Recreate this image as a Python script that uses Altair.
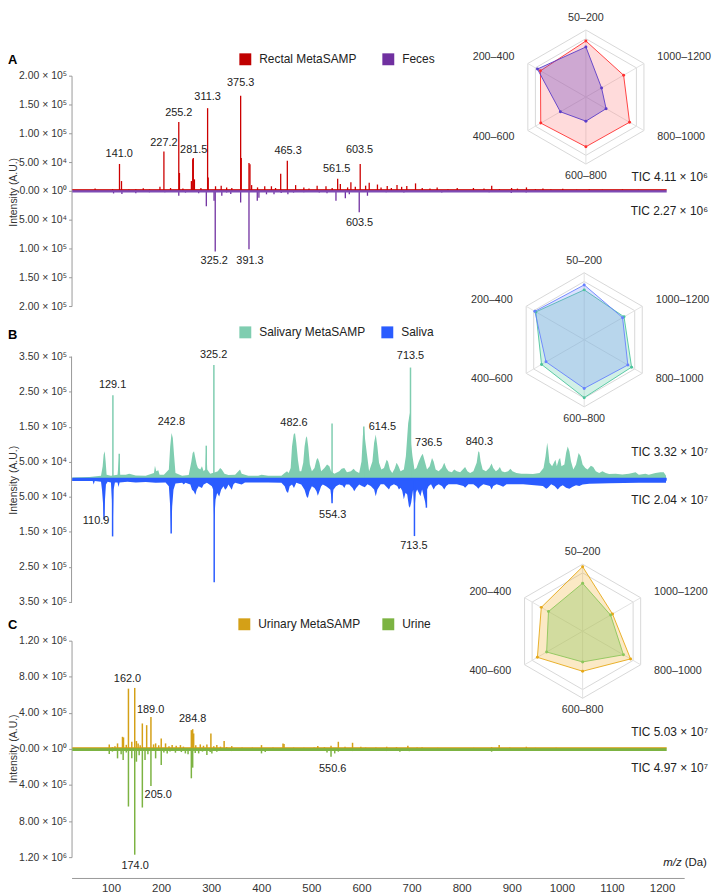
import math
import altair as alt
import pandas as pd

FONT = "Liberation Sans"

# ---------------------------------------------------------------- data
# Panel A  (m/z, intensity)
A_rectal = [(94.4, 4000), (128.3, 3000), (141.8, 46700), (145.7, 17000), (160, 2500), (173.5, 3000),
            (188, 4500), (200, 2500), (220.4, 7000), (228.1, 68400), (241, 5000), (257, 119600),
            (258.3, 31000), (265, 4000), (281.5, 17000), (284.1, 55000), (285.2, 57000), (287.4, 20000),
            (300, 5000), (313.0, 143600), (314.2, 23000), (328.4, 8000), (339.4, 9000), (350, 6000),
            (360, 5000), (377.2, 165300), (378.4, 57000), (393.4, 48400), (395.3, 46000), (398.5, 10000),
            (410, 6000), (424, 8000), (437, 8000), (445, 5000), (455, 29600), (467.9, 52400), (484, 10000),
            (500, 6000), (510, 4000), (525.8, 9000), (543, 8000), (555, 5000), (565.7, 21000), (570.9, 12000),
            (585, 6000), (591.4, 15000), (600, 7000), (609.5, 46700), (620, 9000), (627, 14000), (643, 11000),
            (650, 6000), (662, 8500), (670, 5000), (681, 10000), (690, 7000), (700, 8500), (717, 13000),
            (730, 5000), (745, 4000), (759, 6000), (780, 3000), (798, 5000), (829.5, 5000), (850, 4000),
            (865, 9000), (880, 3000), (903.6, 5000), (915, 4000), (932.5, 6000), (950, 3000), (964.5, 4000),
            (980, 2500), (1003, 3500), (1030, 2000), (1054.5, 3000), (1080, 2000), (1119, 2500), (1150, 2000),
            (1180, 1500)]
A_feces = [(130.3, 4500), (146.5, 5500), (160, 2000), (173.5, 4000), (200, 2500), (230, 2500), (257, 8500),
           (270, 3000), (295.6, 4000), (310.5, 26800), (325.5, 17000), (327.8, 105400), (340.6, 8500),
           (350, 3000), (358, 5500), (377.2, 20000), (393.4, 101400), (409.5, 17000), (412.7, 12000),
           (427.4, 6000), (442, 6000), (456, 3500), (469, 6000), (480, 3000), (500, 2500), (530, 3000),
           (545, 4000), (562.4, 17000), (580.6, 13000), (588.3, 6000), (607.6, 37000), (623.6, 8500),
           (660, 2500), (694.4, 3000), (720, 2000), (768, 3000), (860, 2500), (903, 3500), (932, 3000),
           (960, 2000), (1000, 1500)]
A_labels = [("141.0", 141.3, 63800), ("227.2", 228.1, 82600), ("255.2", 257.0, 135000),
            ("281.5", 286.0, 71300), ("311.3", 313.0, 162400), ("375.3", 377.2, 188000),
            ("465.3", 469.3, 69600), ("561.5", 563.8, 37100), ("603.5", 608.2, 71300),
            ("325.2", 325.9, -122600), ("391.3", 395.4, -122600), ("603.5", 608.2, -55900)]
A_names = ["Rectal MetaSAMP", "Feces"]
A_tic = ["TIC 4.11 × 10⁶", "TIC 2.27 × 10⁶"]

# Panel B
B_salivary_env = [(50, 5000), (83.4, 6700), (105.9, 10500), (109.1, 37000), (111.0, 70000), (113.0, 80000),
    (114.9, 51000), (116.8, 13000), (125.2, 10500), (138.0, 13000), (141.3, 70000), (143.2, 13000),
    (154.1, 13000), (160.6, 16000), (173.4, 11000), (192.7, 10500), (208.8, 18000), (210.7, 39000),
    (213.3, 23000), (217.2, 26000), (219.7, 13000), (228.1, 13000), (237.7, 28000), (240.3, 94000),
    (242.9, 132000), (245.4, 118000), (248.0, 66000), (250.6, 18000), (263.5, 10500), (276.3, 12000),
    (281.5, 51000), (284.0, 75000), (286.6, 80000), (289.2, 61000), (291.8, 42000), (294.3, 32000),
    (298.8, 28000), (302.0, 37000), (305.3, 23000), (308.5, 28000), (310.4, 96000), (312.3, 28000),
    (318.1, 16000), (322.6, 18000), (327.8, 20000), (332.9, 23000), (337.4, 32000), (340.6, 28000),
    (345.8, 16000), (353.5, 12000), (366.4, 13000), (376.0, 28000), (379.2, 16000), (392.1, 10500),
    (411.4, 10500), (417.8, 13000), (430.7, 10500), (456.4, 10500), (462.8, 18000), (467.3, 23000),
    (470.5, 18000), (474.4, 32000), (477.0, 94000), (480.2, 128000), (482.8, 132000), (485.3, 104000),
    (488.5, 56000), (491.8, 23000), (495.0, 23000), (498.8, 47000), (501.4, 94000), (504.0, 118000),
    (505.9, 123000), (508.5, 94000), (511.7, 42000), (515.6, 23000), (520.7, 32000), (524.6, 56000),
    (527.1, 61000), (530.3, 47000), (533.6, 23000), (540.0, 32000), (545.1, 42000), (549.6, 37000),
    (552.9, 23000), (559.3, 16000), (568.9, 23000), (573.4, 30000), (578.6, 32000), (583.7, 20000),
    (591.4, 23000), (596.6, 30000), (601.1, 23000), (607.5, 18000), (612.0, 51000), (614.6, 123000),
    (616.5, 150000), (619.1, 113000), (622.3, 75000), (626.8, 23000), (633.2, 51000), (636.5, 104000),
    (639.7, 128000), (642.9, 94000), (646.1, 47000), (650.6, 28000), (655.7, 32000), (660.9, 56000),
    (663.5, 51000), (667.3, 28000), (671.8, 18000), (676.3, 30000), (680.2, 47000), (684.0, 37000),
    (687.9, 23000), (694.3, 28000), (698.2, 66000), (700.8, 120000), (702.7, 160000), (705.9, 190000),
    (708.5, 100000), (711.1, 66000), (714.9, 28000), (718.8, 32000), (723.3, 51000), (727.8, 66000),
    (731.0, 73000), (734.2, 56000), (739.3, 28000), (744.5, 37000), (749.0, 61000), (752.2, 51000),
    (756.1, 28000), (761.9, 23000), (768.3, 32000), (772.8, 47000), (776.7, 32000), (781.2, 23000),
    (787.6, 20000), (792.1, 28000), (797.2, 23000), (803.7, 20000), (808.8, 28000), (813.3, 35000),
    (817.8, 23000), (823.0, 18000), (829.4, 23000), (835.8, 47000), (839.0, 80000), (841.0, 77000),
    (843.5, 51000), (847.4, 28000), (853.8, 23000), (860.3, 32000), (864.8, 45000), (868.0, 32000),
    (873.1, 23000), (877.6, 28000), (880.8, 35000), (884.7, 23000), (890.5, 20000), (896.9, 23000),
    (901.4, 30000), (905.3, 23000), (913.0, 18000), (922.6, 16000), (932.3, 16000), (945.2, 15000),
    (958.0, 18000), (965.7, 32000), (969.6, 66000), (972.8, 104000), (974.7, 85000), (977.3, 47000),
    (982.4, 37000), (987.0, 51000), (988.9, 56000), (991.5, 37000), (995.3, 56000), (997.9, 61000),
    (1000.5, 37000), (1006.2, 42000), (1009.5, 75000), (1012.7, 94000), (1015.9, 80000), (1019.1, 51000),
    (1023.6, 28000), (1028.8, 42000), (1033.9, 75000), (1037.8, 66000), (1041.6, 42000), (1046.8, 32000),
    (1051.3, 28000), (1057.7, 39000), (1062.2, 35000), (1067.3, 23000), (1073.8, 18000), (1080.2, 23000),
    (1086.6, 18000), (1093.1, 15000), (1105.9, 16000), (1118.8, 14000), (1131.6, 16000), (1144.5, 20000),
    (1150.9, 13000), (1163.8, 16000), (1170.2, 13000), (1183.1, 18000), (1192.7, 20000), (1199.2, 20000),
    (1203.7, 10000)]
B_saliva_env = [(50, 5000), (89.8, 5000), (91.7, 15000), (93.7, 5000), (105.9, 7000), (107.8, 30000),
    (109.8, 68000), (111.7, 115000), (113.6, 58000), (115.5, 15000), (118.8, 7000), (125.2, 9000),
    (127.1, 58000), (128.4, 163000), (130.3, 30000), (132.9, 9000), (138.0, 9000), (140.0, 22000),
    (141.9, 9000), (157.3, 7000), (173.4, 9000), (192.7, 8000), (212.0, 10000), (231.3, 9000),
    (237.7, 20000), (240.3, 77000), (242.2, 155000), (244.2, 77000), (246.7, 30000), (250.6, 12000),
    (263.5, 10000), (266.7, 15000), (269.9, 10000), (279.5, 15000), (282.7, 30000), (286.0, 34000),
    (289.2, 44000), (291.8, 30000), (295.6, 20000), (302.0, 25000), (305.3, 15000), (311.7, 10000),
    (321.3, 20000), (323.9, 30000), (325.8, 120000), (328.4, 58000), (331.6, 39000), (335.5, 49000),
    (339.3, 30000), (343.8, 20000), (347.1, 30000), (350.3, 25000), (353.5, 15000), (359.9, 30000),
    (363.1, 15000), (366.4, 10000), (379.2, 15000), (385.6, 9000), (405.0, 9000), (430.7, 9000),
    (456.4, 10000), (462.8, 20000), (466.0, 34000), (469.2, 39000), (472.5, 20000), (477.0, 15000),
    (480.8, 25000), (485.3, 10000), (495.0, 15000), (501.4, 30000), (505.3, 49000), (507.8, 53000),
    (511.0, 34000), (515.6, 20000), (520.7, 25000), (524.6, 34000), (527.1, 47000), (530.3, 34000),
    (533.6, 20000), (536.8, 15000), (543.2, 20000), (547.7, 25000), (551.6, 30000), (554.8, 68000),
    (557.4, 30000), (562.5, 20000), (568.9, 15000), (575.4, 18000), (578.6, 25000), (581.8, 15000),
    (588.2, 15000), (594.7, 25000), (597.9, 34000), (601.7, 25000), (607.5, 15000), (613.9, 20000),
    (618.4, 23000), (623.6, 14000), (630.0, 19000), (636.5, 29000), (639.7, 48000), (642.9, 29000),
    (649.3, 14000), (655.7, 14000), (662.2, 24000), (665.4, 29000), (668.6, 19000), (675.0, 14000),
    (681.5, 19000), (684.7, 29000), (687.9, 24000), (691.1, 33000), (694.3, 57000), (697.6, 38000),
    (700.8, 43000), (704.0, 76000), (705.9, 81000), (708.5, 67000), (712.3, 29000), (714.9, 90000),
    (717.5, 38000), (720.1, 29000), (723.3, 38000), (726.5, 48000), (729.7, 29000), (732.9, 48000),
    (736.1, 67000), (738.1, 81000), (739.3, 29000), (742.6, 19000), (747.1, 14000), (752.2, 29000),
    (756.1, 19000), (761.9, 14000), (768.3, 19000), (772.8, 29000), (776.7, 19000), (781.2, 14000),
    (792.1, 14000), (797.2, 14000), (810.1, 19000), (813.3, 24000), (819.7, 14000), (829.4, 14000),
    (835.8, 21000), (839.0, 27000), (842.2, 21000), (848.7, 14000), (861.5, 19000), (864.8, 29000),
    (868.0, 19000), (874.4, 14000), (880.8, 17000), (887.3, 21000), (893.7, 14000), (925.9, 14000),
    (964.4, 19000), (970.9, 27000), (974.1, 24000), (980.5, 14000), (987.0, 19000), (993.4, 29000),
    (997.9, 21000), (1003.0, 17000), (1009.5, 24000), (1015.9, 27000), (1022.3, 21000), (1028.8, 17000),
    (1035.2, 19000), (1041.6, 15000), (1054.5, 13000), (1093.1, 11000), (1150.9, 10000), (1203.7, 10000)]
B_salivary_spikes = [(129.0, 240000), (141.3, 73000), (310.4, 96000), (325.2, 326000), (554.8, 159000),
                     (616.5, 151000), (707.2, 319000)]
B_saliva_spikes = [(111.7, 115000), (128.4, 163000), (242.2, 155000), (325.8, 294000), (554.8, 68000),
                   (714.9, 162000), (738.1, 81000)]
B_labels = [("129.1", 128.3, 268600), ("242.8", 242.6, 163800), ("325.2", 324.6, 354300),
            ("482.6", 480.8, 162000), ("614.5", 652.6, 149400), ("713.5", 707.2, 350500),
            ("736.5", 742.6, 102900), ("840.3", 841.0, 107700), ("110.9", 96.3, -119100),
            ("554.3", 556.1, -102900), ("713.5", 713.7, -190600)]
B_names = ["Salivary MetaSAMP", "Saliva"]
B_tic = ["TIC 3.32 × 10⁷", "TIC 2.04 × 10⁷"]

# Panel C
C_urinary = [(121.9, 50000), (128, 20000), (133, 30000), (138.0, 61000), (147.6, 134000), (149.6, 127000),
             (155, 45000), (159.2, 668000), (165.7, 79000), (171.4, 676000), (174.7, 87000), (178, 60000),
             (182, 40000), (186.2, 282000), (194.6, 263000), (202.9, 355000), (208, 50000), (212.0, 61000),
             (218, 40000), (222.9, 116000), (231.3, 61000), (238, 30000), (244.1, 42000), (252, 35000),
             (260.2, 42000), (266, 25000), (281.4, 208000), (284.0, 219000), (285.9, 171000), (290, 40000),
             (298.8, 50000), (305, 35000), (311.6, 50000), (319.4, 171000), (325, 30000), (330.9, 42000),
             (338, 25000), (345.1, 87000), (350, 20000), (359.9, 31000), (380, 15000), (400, 15000),
             (417.7, 42000), (440, 15000), (459.5, 61000), (461.5, 53000), (480, 15000), (500, 12000),
             (520, 15000), (527.1, 31000), (540, 20000), (552.8, 35000), (567.0, 79000), (580, 25000),
             (594.6, 68000), (610.7, 24000), (620, 15000), (640, 15000), (660.9, 24000), (680, 20000),
             (702.1, 35000), (720, 15000), (729.7, 17000), (760, 12000), (800, 10000), (830, 12000),
             (864.8, 20000), (879.5, 42000), (900, 15000), (932.3, 24000), (950, 12000), (990.2, 13000),
             (1000, 8000)]
C_urine = [(121.9, 57000), (128, 30000), (138.0, 105000), (145, 60000), (148.9, 123000), (155, 40000),
           (159.2, 639000), (165.7, 105000), (171.4, 1173000), (174.7, 142000), (180, 70000), (186.2, 650000),
           (191.4, 123000), (197, 60000), (202.9, 411000), (212.0, 105000), (222.9, 179000), (228, 40000),
           (234.5, 50000), (240, 30000), (250.5, 42000), (262, 35000), (269.8, 50000), (275, 60000),
           (281.4, 326000), (284.0, 208000), (289, 45000), (295.6, 50000), (303, 30000), (311.6, 68000),
           (318, 35000), (321.3, 50000), (330.9, 31000), (340, 20000), (359.9, 24000), (400, 15000),
           (417.7, 50000), (425, 35000), (459.5, 24000), (520, 15000), (545, 40000), (552.8, 87000),
           (560, 50000), (567.0, 31000), (590, 20000), (594.6, 24000), (640, 15000), (660.9, 24000),
           (686.6, 31000), (705, 25000), (760, 12000), (864.8, 31000), (880, 20000), (932.3, 17000),
           (950, 10000)]
C_labels = [("162.0", 157.3, 778000), ("189.0", 202.3, 436000), ("284.8", 284.0, 326000),
            ("205.0", 217.1, -511000), ("174.0", 172.1, -1302000), ("550.6", 556.0, -223000)]
C_names = ["Urinary MetaSAMP", "Urine"]
C_tic = ["TIC 5.03 × 10⁷", "TIC 4.97 × 10⁷"]

# Radar insets: share of signal per m/z bin (counter-clockwise from top)
RADAR_BINS = ["50–200", "200–400", "400–600", "600–800", "800–1000", "1000–1200"]
A_radar = [[0.836, 0.783, 0.778, 0.742, 0.752, 0.650],
           [0.747, 0.835, 0.440, 0.360, 0.348, 0.270]]
B_radar = [[0.745, 0.833, 0.735, 0.863, 0.816, 0.686],
           [0.819, 0.850, 0.658, 0.725, 0.752, 0.661]]
C_radar = [[0.963, 0.712, 0.779, 0.597, 0.826, 0.515],
           [0.715, 0.588, 0.620, 0.458, 0.703, 0.482]]
RADAR_RINGS = [1.0, 0.87]

X_TICKS = [100, 200, 300, 400, 500, 600, 700, 800, 900, 1000, 1100, 1200]
A_YTICKS = [-200000, -150000, -100000, -50000, 0, 50000, 100000, 150000, 200000]
B_YTICKS = [-350000, -250000, -150000, -50000, 50000, 150000, 250000, 350000]
C_YTICKS = [-1200000, -800000, -400000, 0, 400000, 800000, 1200000]
BASE_RANGE = [50, 1205]

# ---------------------------------------------------------------- layout
W = 617
XS = alt.Scale(domain=[48.65, 1239.0], nice=False, zero=False)
AXIS_SCALE = alt.Scale(domain=[21.3, 1244.2], nice=False, zero=False)
R = 67.5
GRAY = "#999999"
TXT = "#222222"
ONE = pd.DataFrame({"k": [0]})
SUP = str.maketrans("0123456789", "⁰¹²³⁴⁵⁶⁷⁸⁹")


def sci(v):
    v = abs(v)
    if v == 0:
        return "0.00 × 10⁰"
    e = int(math.floor(math.log10(v)))
    return f"{v / 10 ** e:.2f} × 10{str(e).translate(SUP)}"


def label_expr(ticks):
    parts = [f"abs(datum.value) == {v} ? '{sci(v)}' : " for v in sorted(set(abs(t) for t in ticks))]
    return "".join(parts) + "''"


def spectrum_group(cfg):
    ys = alt.Scale(domain=cfg["ydom"], nice=False, zero=False)
    yaxis = alt.Axis(values=cfg["yticks"], labelExpr=label_expr(cfg["yticks"]), title="Intensity (A.U.)",
                     titleFontSize=10.5, titleFontWeight="normal", titleColor="#333", titleAngle=270,
                     titleX=-58, titleY=cfg["title_y"], titleBaseline="middle", titleAlign="center",
                     labelFontSize=10.5, labelColor="#333", tickSize=3, tickColor=GRAY,
                     domain=cfg["axis_domain"], domainColor=GRAY, grid=False, labelPadding=2)

    def X(f):
        return alt.X(f, type="quantitative", scale=XS, axis=None)

    def Y(f):
        return alt.Y(f, type="quantitative", scale=ys, axis=yaxis)

    layers = []
    for env, col, sign in cfg.get("areas", []):
        df = pd.DataFrame(env, columns=["mz", "inten"])
        layers.append(alt.Chart(df).transform_calculate(val=f"{sign}*datum.inten")
                      .mark_area(color=col, opacity=1)
                      .encode(x=X("mz"), y=Y("val"), y2=alt.Y2Datum(datum=0)))
    for peaks, col, sign, w in cfg["sticks"]:
        df = pd.DataFrame(peaks, columns=["mz", "inten"])
        layers.append(alt.Chart(df).transform_calculate(val=f"{sign}*datum.inten")
                      .mark_rule(color=col, strokeWidth=w)
                      .encode(x=X("mz"), y=Y("val"), y2=alt.Y2Datum(datum=0)))
    for col, w, off in cfg["baselines"]:
        layers.append(alt.Chart(ONE).mark_rule(color=col, strokeWidth=w, yOffset=off)
                      .encode(x=alt.XDatum(datum=BASE_RANGE[0], scale=XS, axis=None),
                              x2=alt.X2Datum(datum=BASE_RANGE[1]),
                              y=alt.YDatum(datum=0, scale=ys, axis=yaxis)))
    if not cfg["axis_domain"]:
        lo, hi = min(cfg["yticks"]), max(cfg["yticks"])
        layers.append(alt.Chart(ONE).mark_rule(color=GRAY, strokeWidth=1)
                      .encode(x=alt.value(0), y=alt.YDatum(datum=lo, scale=ys, axis=yaxis),
                              y2=alt.Y2Datum(datum=hi)))
    lab = pd.DataFrame(cfg["labels"], columns=["t", "mz", "val"])
    layers.append(alt.Chart(lab).mark_text(fontSize=11, color=TXT, baseline="middle")
                  .encode(x=X("mz"), y=Y("val"), text="t:N"))
    for txt, ty in zip(cfg["tic"], cfg["tic_y"]):
        layers.append(alt.Chart(ONE).mark_text(text=txt, align="right", baseline="middle", fontSize=12, color=TXT)
                      .encode(x=alt.value(641), y=alt.value(ty)))
    for name, col, sx in zip(cfg["names"], cfg["colors"], cfg["leg_x"]):
        layers.append(alt.Chart(ONE).mark_square(size=144, color=col, opacity=1)
                      .encode(x=alt.value(sx), y=alt.value(cfg["leg_y"])))
        layers.append(alt.Chart(ONE).mark_text(text=name, align="left", baseline="middle", fontSize=12, color=TXT)
                      .encode(x=alt.value(sx + 14), y=alt.value(cfg["leg_y"])))
    layers.append(alt.Chart(ONE).mark_text(text=cfg["letter"], align="left", baseline="middle", fontSize=13,
                                           fontWeight="bold", color="#000")
                  .encode(x=alt.value(-64), y=alt.value(cfg["letter_y"])))
    return alt.layer(*layers)


def radar_group(cfg, H):
    cx, cy = cfg["radar_c"]
    rxs = alt.Scale(domain=[-cx / R, (W - cx) / R], nice=False, zero=False)
    rys = alt.Scale(domain=[(cy - H) / R, cy / R], nice=False, zero=False)

    def RX(f):
        return alt.X(f, type="quantitative", scale=rxs, axis=None)

    def RY(f):
        return alt.Y(f, type="quantitative", scale=rys, axis=None)

    calc = dict(ang="PI/2 + datum.idx*PI/3", px="datum.r*cos(datum.ang)", py="datum.r*sin(datum.ang)")
    rings = pd.DataFrame([{"level": lv, "idx": i, "r": lv} for lv in RADAR_RINGS for i in range(6)])
    spokes = pd.DataFrame({"idx": list(range(6)), "r": [1.0] * 6})
    layers = [
        alt.Chart(rings).transform_calculate(**calc)
        .mark_line(interpolate="linear-closed", color="#d8d8d8", strokeWidth=1)
        .encode(x=RX("px"), y=RY("py"), detail="level:N", order="idx:Q"),
        alt.Chart(spokes).transform_calculate(zx="0", zy="0", **calc)
        .mark_rule(color="#e2e2e2", strokeWidth=1)
        .encode(x=RX("zx"), y=RY("zy"), x2="px:Q", y2="py:Q"),
    ]
    for vals, (stroke, fill, fop) in zip(cfg["radar"], cfg["radar_style"]):
        df = pd.DataFrame({"idx": list(range(6)), "r": vals})
        layers.append(alt.Chart(df).transform_calculate(**calc)
                      .mark_line(interpolate="linear-closed", stroke=stroke, fill=fill, fillOpacity=fop,
                                 strokeWidth=0.9)
                      .encode(x=RX("px"), y=RY("py"), order="idx:Q"))
    for vals, (stroke, fill, fop) in zip(cfg["radar"], cfg["radar_style"]):
        df = pd.DataFrame({"idx": list(range(6)), "r": vals})
        layers.append(alt.Chart(df).transform_calculate(**calc)
                      .mark_circle(size=9, color=stroke, opacity=1)
                      .encode(x=RX("px"), y=RY("py")))
    lab = pd.DataFrame({"idx": list(range(6)), "r": [1.18] * 6, "t": RADAR_BINS})
    for sel, align, dx in [([0, 3], "center", 0), ([1, 2], "right", -3), ([4, 5], "left", 3)]:
        layers.append(alt.Chart(lab).transform_filter(alt.FieldOneOfPredicate(field="idx", oneOf=sel))
                      .transform_calculate(**calc)
                      .mark_text(align=align, dx=dx, baseline="middle", fontSize=10.8, color="#333")
                      .encode(x=RX("px"), y=RY("py"), text="t:N"))
    return alt.layer(*layers)


def axis_group():
    ax = alt.Axis(values=X_TICKS, format="d", orient="bottom", offset=21, ticks=False, labelPadding=5,
                  labelFontSize=11.5, labelColor="#333", domainColor=GRAY, grid=False, title=None)
    return alt.layer(
        alt.Chart(pd.DataFrame({"t": X_TICKS})).mark_point(opacity=0)
        .encode(x=alt.X("t:Q", scale=AXIS_SCALE, axis=ax), y=alt.value(0)),
        alt.Chart(ONE).mark_text(text="m/z", fontStyle="italic", align="right", baseline="middle",
                                 fontSize=11.5, color=TXT).encode(x=alt.value(614.5), y=alt.value(224)),
        alt.Chart(ONE).mark_text(text="(Da)", align="left", baseline="middle", fontSize=11.5, color=TXT)
        .encode(x=alt.value(617.5), y=alt.value(224)),
    )


H_A, H_B, H_C = 232, 259, 218
B_top = 350000 + 12 * 700000 / 247

cfgA = dict(ydom=[-200000, 200000], yticks=A_YTICKS, title_y=117, axis_domain=True,
            sticks=[(A_feces, "#7030a0", -1, 1.3), (A_rectal, "#cc0000", 1, 1.3)],
            baselines=[("#7d4bb5", 2.5, 0.5), ("#cc0000", 1, -1.2)],
            labels=A_labels, tic=A_tic, tic_y=[102, 136.3], names=A_names, colors=["#c00000", "#7030a0"],
            leg_x=[175, 319], leg_y=-16.5, letter="A", letter_y=-16,
            radar=A_radar, radar_c=(518, 21.5),
            radar_style=[("#ff3030", "#ff5a5a", 0.22), ("#5a3cc8", "#6a40c0", 0.33)])
cfgB = dict(ydom=[-350000, B_top], yticks=B_YTICKS, title_y=136, axis_domain=False,
            areas=[(B_salivary_env, "#7fcdb0", 1), (B_saliva_env, "#2a5cff", -1)],
            sticks=[(B_salivary_spikes, "#7fcdb0", 1, 1.5), (B_saliva_spikes, "#2a5cff", -1, 1.5)],
            baselines=[("#2a5cff", 3, 0)],
            labels=B_labels, tic=B_tic, tic_y=[108.3, 156.7], names=B_names, colors=["#7fcdb0", "#2a5cff"],
            leg_x=[175, 318], leg_y=-12.5, letter="B", letter_y=-9.5,
            radar=B_radar, radar_c=(516.3, -5),
            radar_style=[("#4cc59c", "#70d0b0", 0.32), ("#6680ff", "#7088ff", 0.25)])
cfgC = dict(ydom=[-1200000, 1200000], yticks=C_YTICKS, title_y=108.5, axis_domain=True,
            sticks=[(C_urine, "#7cb342", -1, 1.5), (C_urinary, "#d4a017", 1, 1.5)],
            baselines=[("#7cb342", 3, 0.5), ("#d4a017", 1, -1.2)],
            labels=C_labels, tic=C_tic, tic_y=[92, 128.7], names=C_names, colors=["#d4a017", "#7cb342"],
            leg_x=[174, 319], leg_y=-16.5, letter="C", letter_y=-16,
            radar=C_radar, radar_c=(514.7, -9.5),
            radar_style=[("#e6a817", "#f0b030", 0.28), ("#8cc65a", "#90c860", 0.38)])

pA = alt.layer(spectrum_group(cfgA), radar_group(cfgA, H_A)).resolve_scale(
    x="independent", y="independent").properties(width=W, height=H_A)
pB = alt.layer(spectrum_group(cfgB), radar_group(cfgB, H_B)).resolve_scale(
    x="independent", y="independent").properties(width=W, height=H_B)
pC = alt.layer(spectrum_group(cfgC), radar_group(cfgC, H_C), axis_group()).resolve_scale(
    x="independent", y="independent").properties(width=W, height=H_C)

chart = (alt.vconcat(pA, pB, pC, spacing=39, bounds="flush")
         .resolve_scale(x="independent", y="independent")
         .properties(padding=0)
         .configure(font=FONT)
         .configure_view(stroke=None))

chart.save("out.html", embed_options={"renderer": "svg", "actions": False})
